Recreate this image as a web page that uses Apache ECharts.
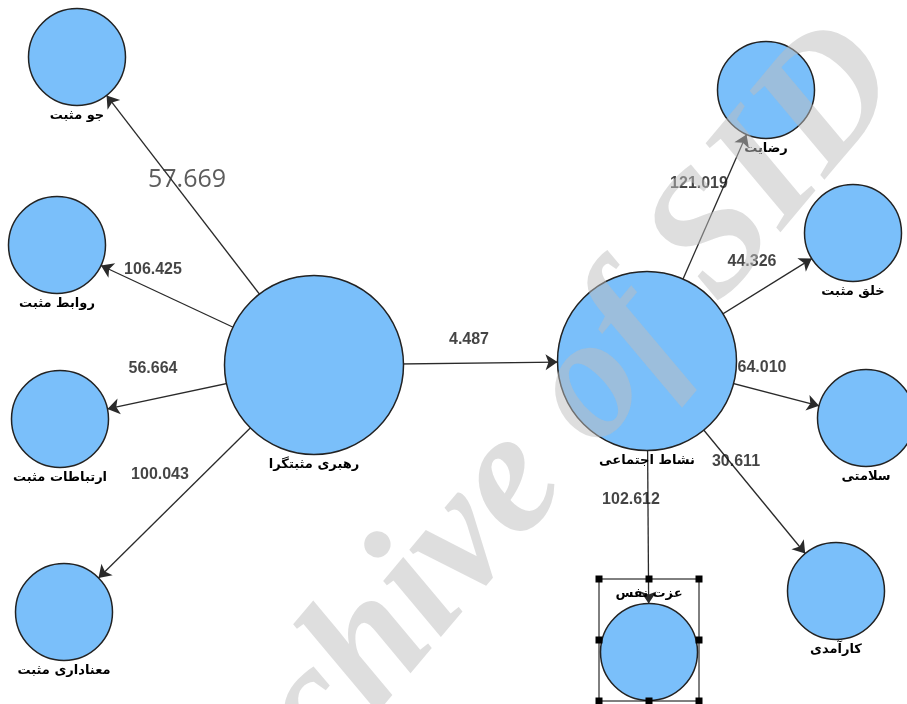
<!DOCTYPE html>
<html style="height: 100%">
    <head>
        <title>مدل مسیر</title>
        <meta charset="utf-8">
    </head>
    <body style="height: 100%; margin: 0; background: #fff">
        <div id="container" style="width: 907px; height: 704px"></div>

        <script type="text/javascript" src="https://cdn.jsdelivr.net/npm/echarts@6/dist/echarts.min.js"></script>
        <script type="text/javascript">
            // نام سازه ها و محل آنها در نمودار
            var nodeNames = ['جو مثبت', 'روابط مثبت', 'ارتباطات مثبت', 'معناداری مثبت', 'رهبری مثبتگرا',
                'نشاط اجتماعی', 'رضایت', 'خلق مثبت', 'سلامتی', 'کارآمدی', 'عزت نفس'];
            var nodeX = [77, 57, 60, 64, 314, 647, 766, 853, 866, 836, 649];
            var nodeY = [57, 245, 419, 612, 365, 361, 90, 233, 418, 591, 652];
            var nodeBig = [false, false, false, false, true, true, false, false, false, false, false];

            // مسیرها: مبدا، مقصد، مقدار t
            var edgeFrom = [4, 4, 4, 4, 4, 5, 5, 5, 5, 5];
            var edgeTo = [0, 1, 2, 3, 5, 6, 7, 8, 9, 10];
            var edgeValues = ['57.669', '106.425', '56.664', '100.043', '4.487', '121.019', '44.326', '64.010', '30.611', '102.612'];
            // where each path value is written
            var labelSpots = [[187, 180], [153, 270], [153, 369], [160, 475], [469, 340],
                [699, 184], [752, 262], [762, 368], [736, 462], [631, 500]];

            var dom = document.getElementById('container');
            var myChart = echarts.init(dom);

            var nodes = nodeNames.map(function (name, i) {
                var n = {
                    name: name,
                    value: [nodeX[i], nodeY[i]],
                    symbolSize: nodeBig[i] ? 179 : 97
                };
                if (name === 'عزت نفس') {
                    n.label = { position: 'top', distance: 3 };
                }
                return n;
            });
            var links = edgeFrom.map(function (s, i) {
                return { source: nodeNames[s], target: nodeNames[edgeTo[i]], value: edgeValues[i] };
            });
            var valueLabels = edgeValues.map(function (v, i) {
                var d = { value: [labelSpots[i][0], labelSpots[i][1], v] };
                if (i === 0) {
                    d.label = { fontFamily: 'Open Sans', fontWeight: 'normal', fontSize: 25, color: '#333' };
                }
                return d;
            });

            var option = {
                animation: false,
                backgroundColor: '#fff',
                grid: { left: 0, right: 0, top: 0, bottom: 0 },
                xAxis: { type: 'value', min: 0, max: 907, show: false },
                yAxis: { type: 'value', min: 0, max: 704, inverse: true, show: false },
                series: [
                    {
                        type: 'graph',
                        coordinateSystem: 'cartesian2d',
                        data: nodes,
                        links: links,
                        edgeSymbol: ['none', 'arrow'],
                        edgeSymbolSize: [0, 12],
                        itemStyle: { color: '#7abffa', borderColor: '#222', borderWidth: 1.5 },
                        lineStyle: { color: '#2a2a2a', width: 1.3, opacity: 1 },
                        label: {
                            show: true,
                            position: 'bottom',
                            distance: 3,
                            fontFamily: 'DejaVu Sans',
                            fontWeight: 'bold',
                            fontSize: 13,
                            color: '#000'
                        },
                        emphasis: { disabled: true },
                        z: 2
                    },
                    {
                        type: 'scatter',
                        data: valueLabels,
                        symbolSize: 0,
                        label: {
                            show: true,
                            position: 'inside',
                            formatter: function (p) { return p.value[2]; },
                            fontFamily: 'Liberation Sans',
                            fontWeight: 'bold',
                            fontSize: 16,
                            color: '#151515'
                        },
                        z: 3
                    }
                ]
            };
            myChart.setOption(option);

            // selection box around the last node
            var c = myChart.convertToPixel({ gridIndex: 0 }, [nodeX[10], nodeY[10]]);
            var bx = c[0] - 50, by = c[1] - 73, bw = 100, bh = 122;
            var handles = [];
            [[0, 0], [0.5, 0], [1, 0], [0, 0.5], [1, 0.5], [0, 1], [0.5, 1], [1, 1]].forEach(function (h) {
                handles.push({
                    type: 'rect',
                    shape: { x: bx + h[0] * bw - 3.5, y: by + h[1] * bh - 3.5, width: 7, height: 7 },
                    style: { fill: '#000' },
                    z: 50
                });
            });
            myChart.setOption({
                graphic: [
                    {
                        type: 'rect',
                        shape: { x: bx, y: by, width: bw, height: bh },
                        style: { fill: 'none', stroke: '#000', lineWidth: 1 },
                        z: 50
                    }
                ].concat(handles).concat([
                    {
                        type: 'text',
                        x: 522, y: 470,
                        rotation: 50 * Math.PI / 180,
                        silent: true,
                        z: 100,
                        style: {
                            text: 'Archive of SID',
                            font: 'italic bold 175px "Liberation Serif"',
                            align: 'center',
                            verticalAlign: 'middle',
                            fill: 'rgba(190,190,190,0.5)'
                        }
                    }
                ])
            });

            window.onresize = function () {
                myChart.resize();
            };
        </script>
    </body>
</html>
